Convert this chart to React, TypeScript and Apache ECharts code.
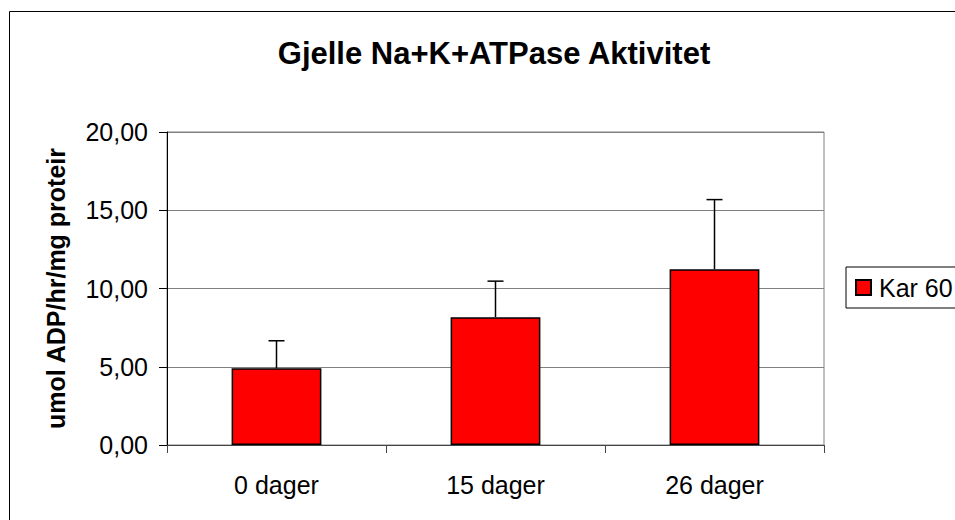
import React, { useEffect, useRef } from "react";
import * as echarts from "echarts";

const titleText = "Gjelle Na+K+ATPase Aktivitet";
const yAxisName = "umol ADP/hr/mg proteir";
const seriesName = "Kar 60";
const categories = ["0 dager", "15 dager", "26 dager"];
const values = [4.9, 8.17, 11.23];
const errorsPlus = [1.76, 2.3, 4.45];
const yTicks = { min: 0, max: 20, interval: 5 };

const FONT = "'Liberation Sans', Arial, sans-serif";

export default function App() {
  const ref = useRef<HTMLDivElement>(null);
  useEffect(() => {
    document.body.style.margin = "0";
    const chart = echarts.init(ref.current!, undefined, { renderer: "svg" });
    const errData = categories.map((c, i) => [i, values[i], errorsPlus[i]]);
    chart.setOption({
      animation: false,
      backgroundColor: "#fff",
      textStyle: { fontFamily: FONT, color: "#000" },
      title: {
        text: titleText,
        left: 489,
        top: 33,
        textAlign: "center",
        textStyle: { fontFamily: FONT, fontSize: 31, fontWeight: "bold", color: "#000" },
      },
      graphic: [
        {
          type: "rect",
          shape: { x: 9.5, y: 11.5, width: 1100, height: 700 },
          style: { fill: "none", stroke: "#000", lineWidth: 1 },
          silent: true,
          z: -1,
        },
      ],
      legend: {
        data: [seriesName],
        left: 846,
        top: 267,
        orient: "vertical",
        padding: [8, 14, 8, 9],
        borderColor: "#000",
        borderWidth: 1,
        backgroundColor: "#fff",
        icon: "rect",
        itemWidth: 15,
        itemHeight: 15,
        textStyle: { fontFamily: FONT, fontSize: 25, color: "#000", padding: [0, 0, 0, 3] },
      },
      grid: {
        left: 167,
        top: 132,
        width: 657,
        height: 313,
        show: true,
        borderColor: "#808080",
        borderWidth: 1,
        backgroundColor: "#fff",
        containLabel: false,
      },
      xAxis: {
        type: "category",
        data: categories,
        boundaryGap: true,
        axisLine: { lineStyle: { color: "#444", width: 1 } },
        axisTick: { show: true, length: 8, lineStyle: { color: "#444" } },
        axisLabel: { fontFamily: FONT, fontSize: 25, color: "#000", margin: 27 },
      },
      yAxis: {
        type: "value",
        min: yTicks.min,
        max: yTicks.max,
        interval: yTicks.interval,
        name: yAxisName,
        nameLocation: "middle",
        nameRotate: 90,
        nameGap: 99,
        nameTextStyle: { fontFamily: FONT, fontSize: 25, fontWeight: "bold", color: "#000" },
        axisLine: { show: true, lineStyle: { color: "#000", width: 1 } },
        axisTick: { show: true, length: 8, lineStyle: { color: "#000" } },
        axisLabel: {
          fontFamily: FONT,
          fontSize: 25,
          color: "#000",
          margin: 19,
          formatter: (v: number) => v.toFixed(2).replace(".", ","),
        },
        splitLine: { show: true, lineStyle: { color: "#808080", width: 1 } },
      },
      series: [
        {
          name: seriesName,
          type: "bar",
          data: values,
          barWidth: "41%",
          itemStyle: { color: "#ff0000", borderColor: "#000", borderWidth: 1.5 },
        },
        {
          name: "error",
          type: "custom",
          data: errData,
          z: 5,
          renderItem: (params: any, api: any) => {
            const x = api.value(0);
            const y = api.value(1);
            const e = api.value(2);
            const p0 = api.coord([x, y]);
            const p1 = api.coord([x, y + e]);
            const style = { stroke: "#000", lineWidth: 1.5 };
            return {
              type: "group",
              children: [
                { type: "line", shape: { x1: p0[0], y1: p0[1], x2: p1[0], y2: p1[1] }, style },
                { type: "line", shape: { x1: p1[0] - 8, y1: p1[1], x2: p1[0] + 8, y2: p1[1] }, style },
              ],
            };
          },
        },
      ],
    });
    return () => chart.dispose();
  }, []);
  return <div ref={ref} style={{ width: 955, height: 520 }} />;
}
